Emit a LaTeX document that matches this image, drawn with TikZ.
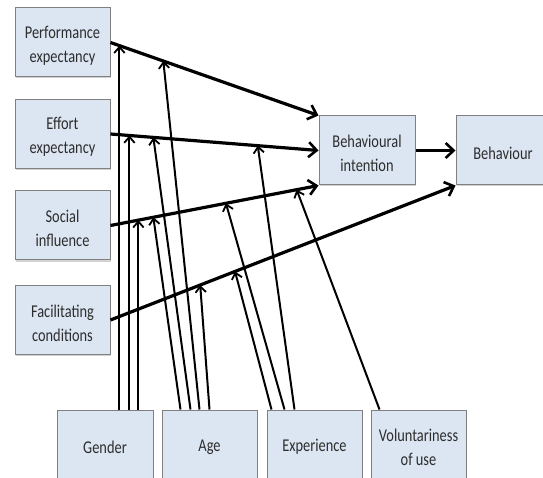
\documentclass[tikz,border=0pt]{standalone}
\usepackage{fontspec}
\setmainfont[FakeStretch=0.8]{Carlito}
\usetikzlibrary{arrows.meta,calc,shadows}
\definecolor{boxfill}{RGB}{220,230,242}
\definecolor{boxline}{RGB}{128,128,128}
\definecolor{txt}{RGB}{45,45,45}
\begin{document}
\begin{tikzpicture}[x=1pt,y=-1pt,
  box/.style={draw=boxline,line width=1pt,fill=boxfill,minimum width=95pt,minimum height=69pt,
    inner sep=2pt,
    drop shadow={shadow xshift=1pt,shadow yshift=-1.5pt,opacity=0.35}},
  lbl/.style={align=center,text=txt,inner sep=0pt,yshift=-3pt,font=\fontsize{18}{24}\selectfont},
  main/.style={line width=3.2pt,-{Straight Barb[length=8pt,width=15pt,line width=2.6pt]}},
  mod/.style={line width=2pt,-{Straight Barb[length=6pt,width=10.5pt,line width=1.8pt]}}]
\clip (0,0) rectangle (543,478);
\fill[white] (0,0) rectangle (543,478);
% boxes
\node[box,label={[lbl]center:Performance\\expectancy}] (pe) at (62.5,42.5) {};
\node[box,label={[lbl]center:Effort\\expectancy}] (ee) at (62.5,134) {};
\node[box,label={[lbl]center:Social\\influence}] (si) at (62.5,225.5) {};
\node[box,label={[lbl]center:Facilitating\\conditions}] (fc) at (62.5,320) {};
\node[box,minimum width=96pt,label={[lbl]center:Behavioural\\intention}] (bi) at (367,150.5) {};
\node[box,minimum width=94pt,label={[lbl]center:Behaviour}] (beh) at (503,150.5) {};
\node[box,minimum width=96pt,minimum height=68pt,label={[lbl]center:Gender}] (gender) at (105,444) {};
\node[box,minimum height=68pt,label={[lbl]center:Age}] (age) at (209.5,444) {};
\node[box,minimum height=68pt,label={[lbl]center:Experience}] (exp) at (314.5,444) {};
\node[box,minimum height=68pt,label={[lbl]center:Voluntariness\\of use}] (vol) at (418.5,444) {};
% main paths with target points
\path (pe.east) -- (bi.north west)
  coordinate[pos=0.043] (gpe) coordinate[pos=0.254] (ape);
\path (ee.east) -- (bi.west)
  coordinate[pos=0.091] (gee) coordinate[pos=0.206] (aee) coordinate[pos=0.708] (xee);
\path (si.east) -- (bi.south west)
  coordinate[pos=0.134] (gsi) coordinate[pos=0.206] (asi) coordinate[pos=0.555] (xsi) coordinate[pos=0.895] (vsi);
\path (fc.east) -- (beh.south west)
  coordinate[pos=0.260] (afc) coordinate[pos=0.361] (xfc);
% moderator arrows
\draw[mod] (gpe |- gender.north) -- (gpe);
\draw[mod] (gee |- gender.north) -- (gee);
\draw[mod] (gsi |- gender.north) -- (gsi);
\draw[mod] ($(age.north west)+(19,0)$) -- (asi);
\draw[mod] ($(age.north west)+(29,0)$) -- (aee);
\draw[mod] ($(age.north west)+(38,0)$) -- (ape);
\draw[mod] ($(age.north west)+(48,0)$) -- (afc);
\draw[mod] ($(exp.north west)+(5,0)$) -- (xfc);
\draw[mod] ($(exp.north west)+(18,0)$) -- (xsi);
\draw[mod] ($(exp.north west)+(28,0)$) -- (xee);
\draw[mod] ($(vol.north west)+(9,0)$) -- (vsi);
% main arrows
\draw[main] (pe.east) -- (bi.north west);
\draw[main] (ee.east) -- (bi.west);
\draw[main] (si.east) -- (bi.south west);
\draw[main] (fc.east) -- (beh.south west);
\draw[main] (bi.east) -- (beh.west);
\end{tikzpicture}
\end{document}
